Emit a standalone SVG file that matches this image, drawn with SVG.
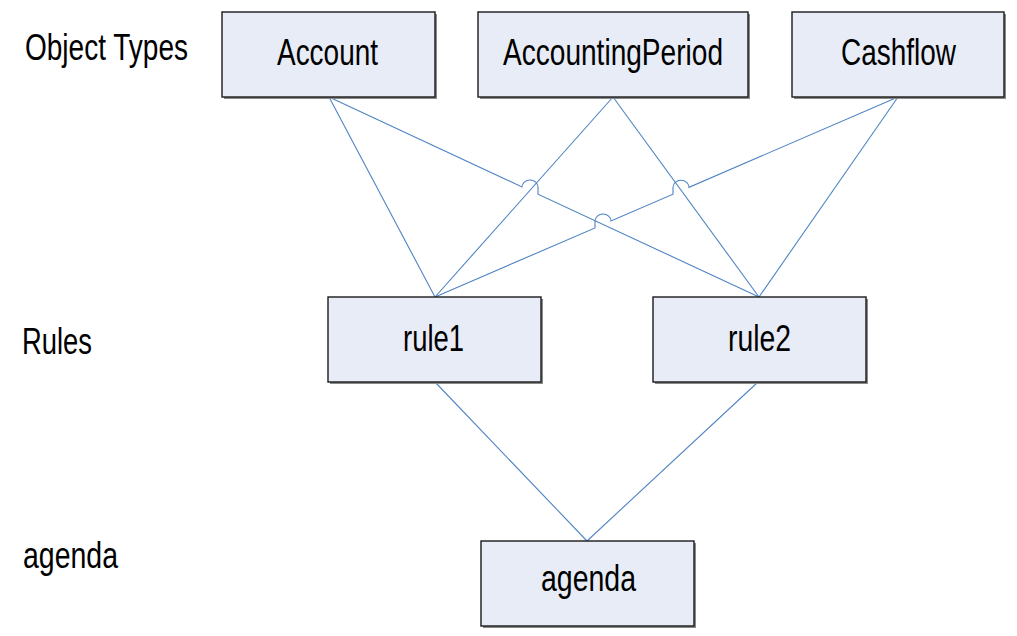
<svg xmlns="http://www.w3.org/2000/svg" width="1017" height="636" viewBox="0 0 1017 636">
  <style>
    .box { fill: #e7ecf6; stroke: #1a1a1a; stroke-width: 1.4; }
    .shadow { fill: #8a8a8a; }
    .lbl { font-family: "Liberation Sans", Arial, sans-serif; font-size: 36px; fill: #000; }
    .mid { text-anchor: middle; }
    .wire { fill: none; stroke: #4f84c4; stroke-width: 1.1; }
  </style>

  <!-- tier captions -->
  <g id="captions">
    <text class="lbl" x="25" y="60" textLength="163" lengthAdjust="spacingAndGlyphs">Object Types</text>
    <text class="lbl" x="22" y="354" textLength="70" lengthAdjust="spacingAndGlyphs">Rules</text>
    <text class="lbl" x="23" y="568" textLength="95" lengthAdjust="spacingAndGlyphs">agenda</text>
  </g>

  <!-- connectors, with line jumps where they cross -->
  <g id="connectors">
    <path class="wire" d="M329,97 L435,297"/>
    <path class="wire" d="M329,97 L522,187 A8,7 0 0 1 538,187 L538,194.2 L759,297"/>
    <path class="wire" d="M613,97 L435,297"/>
    <path class="wire" d="M613,97 L759,297"/>
    <path class="wire" d="M898,97 L689,187.3 A8,7 0 0 0 673,187.3 L673,194.2 L611,221 A8,7 0 0 0 595,221 L595,227.9 L435,297"/>
    <path class="wire" d="M898,97 L759,297"/>
    <path class="wire" d="M435,382 L587,541"/>
    <path class="wire" d="M758,382 L587,541"/>
  </g>

  <g id="account">
    <rect class="shadow" x="224" y="14" width="213" height="85"/>
    <rect class="box" x="222" y="12" width="213" height="85"/>
    <text class="lbl mid" x="327.5" y="65" textLength="101" lengthAdjust="spacingAndGlyphs">Account</text>
  </g>

  <g id="accountingPeriod">
    <rect class="shadow" x="480" y="14" width="270" height="85"/>
    <rect class="box" x="478" y="12" width="270" height="85"/>
    <text class="lbl mid" x="613" y="65" textLength="220" lengthAdjust="spacingAndGlyphs">AccountingPeriod</text>
  </g>

  <g id="cashflow">
    <rect class="shadow" x="794" y="14" width="212" height="85"/>
    <rect class="box" x="792" y="12" width="212" height="85"/>
    <text class="lbl mid" x="898.5" y="65" textLength="115" lengthAdjust="spacingAndGlyphs">Cashflow</text>
  </g>

  <g id="rule1">
    <rect class="shadow" x="330" y="299" width="213" height="85"/>
    <rect class="box" x="328" y="297" width="213" height="85"/>
    <text class="lbl mid" x="433.5" y="351" textLength="61" lengthAdjust="spacingAndGlyphs">rule1</text>
  </g>

  <g id="rule2">
    <rect class="shadow" x="655" y="299" width="213" height="85"/>
    <rect class="box" x="653" y="297" width="213" height="85"/>
    <text class="lbl mid" x="759.5" y="351" textLength="63" lengthAdjust="spacingAndGlyphs">rule2</text>
  </g>

  <g id="agenda">
    <rect class="shadow" x="483" y="543" width="213" height="85"/>
    <rect class="box" x="481" y="541" width="213" height="85"/>
    <text class="lbl mid" x="588.5" y="591" textLength="95" lengthAdjust="spacingAndGlyphs">agenda</text>
  </g>
</svg>
